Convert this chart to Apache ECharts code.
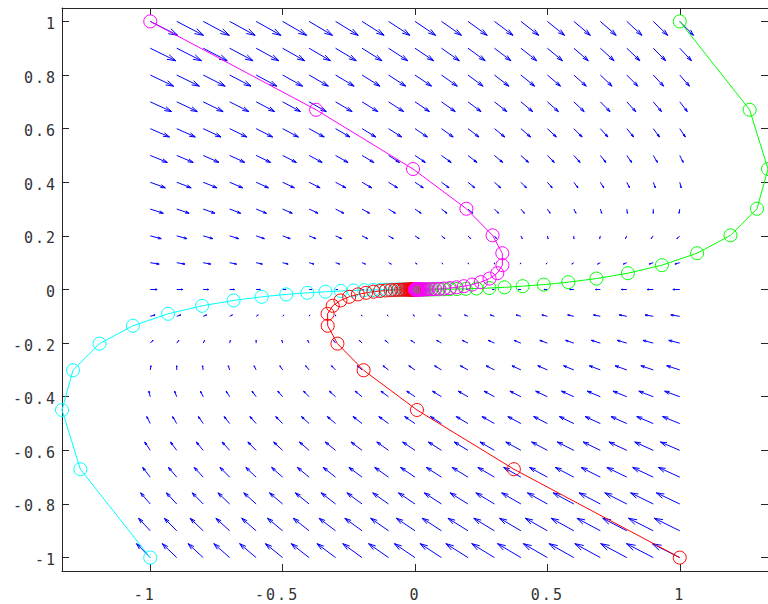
<!DOCTYPE html>
<html>
<head>
<meta charset="utf-8">
<title>Phase portrait</title>
<script src="https://cdn.jsdelivr.net/npm/echarts@6/dist/echarts.min.js"></script>
<style>
  html, body { margin: 0; padding: 0; background: #ffffff; }
  #chart { width: 768px; height: 604px; }
  #chart text { letter-spacing: 2px; }
</style>
</head>
<body>
<div id="chart"></div>
<script>
// Direction field sample grid
const gridX = [-1, -0.9, -0.8, -0.7, -0.6, -0.5, -0.4, -0.3, -0.2, -0.1, 0, 0.1, 0.2, 0.3, 0.4, 0.5, 0.6, 0.7, 0.8, 0.9, 1];
const gridY = [-1, -0.9, -0.8, -0.7, -0.6, -0.5, -0.4, -0.3, -0.2, -0.1, 0, 0.1, 0.2, 0.3, 0.4, 0.5, 0.6, 0.7, 0.8, 0.9, 1];
// Field components: horizontal part that varies along x, horizontal part that varies along y,
// and the vertical component (varies along y only)
const uFromX = [1, 0.9, 0.8, 0.7, 0.6, 0.5, 0.4, 0.3, 0.2, 0.1, 0, -0.1, -0.2, -0.3, -0.4, -0.5, -0.6, -0.7, -0.8, -0.9, -1];
const uFromY = [-3, -2.7, -2.4, -2.1, -1.8, -1.5, -1.2, -0.9, -0.6, -0.3, 0, 0.3, 0.6, 0.9, 1.2, 1.5, 1.8, 2.1, 2.4, 2.7, 3];
const vFromY = [2, 1.8, 1.6, 1.4, 1.2, 1, 0.8, 0.6, 0.4, 0.2, 0, -0.2, -0.4, -0.6, -0.8, -1, -1.2, -1.4, -1.6, -1.8, -2];

// Trajectories, one marker per time step
const magentaX = [-1, -0.3735, -0.0074, 0.1941, 0.2930, 0.3297, 0.3302, 0.3108, 0.2815, 0.2486, 0.2157, 0.1848, 0.1568, 0.1320, 0.1105, 0.0921, 0.0765, 0.0634, 0.0524, 0.0432, 0.0356, 0.0293, 0.0241, 0.0198, 0.0163, 0.0133, 0.0109, 0.0090, 0.0074, 0.0061, 0.0050, 0.0041, 0.0033, 0.0027, 0.0022, 0.0018, 0.0015, 0.0012, 0.0010, 0.0008, 0.0007];
const magentaY = [1, 0.6703, 0.4493, 0.3012, 0.2019, 0.1353, 0.0907, 0.0608, 0.0408, 0.0273, 0.0183, 0.0123, 0.0082, 0.0055, 0.0037, 0.0025, 0.0017, 0.0011, 0.0007, 0.0005, 0.0003, 0.0002, 0.0002, 0.0001, 0.0001, 0, 0, 0, 0, 0, 0, 0, 0, 0, 0, 0, 0, 0, 0, 0, 0];
const greenX = [1, 1.2640, 1.3333, 1.2917, 1.1916, 1.0655, 0.9326, 0.8040, 0.6853, 0.5792, 0.4864, 0.4064, 0.3382, 0.2805, 0.2322, 0.1917, 0.1581, 0.1302, 0.1071, 0.0880, 0.0723, 0.0593, 0.0487, 0.0399, 0.0327, 0.0268, 0.0220, 0.0180, 0.0148, 0.0121, 0.0099, 0.0081, 0.0066, 0.0054, 0.0044, 0.0036, 0.0030, 0.0024, 0.0020, 0.0016, 0.0013];
const greenY = [1, 0.6703, 0.4493, 0.3012, 0.2019, 0.1353, 0.0907, 0.0608, 0.0408, 0.0273, 0.0183, 0.0123, 0.0082, 0.0055, 0.0037, 0.0025, 0.0017, 0.0011, 0.0007, 0.0005, 0.0003, 0.0002, 0.0002, 0.0001, 0.0001, 0, 0, 0, 0, 0, 0, 0, 0, 0, 0, 0, 0, 0, 0, 0, 0];
const redX = [1, 0.3735, 0.0074, -0.1941, -0.2930, -0.3297, -0.3302, -0.3108, -0.2815, -0.2486, -0.2157, -0.1848, -0.1568, -0.1320, -0.1105, -0.0921, -0.0765, -0.0634, -0.0524, -0.0432, -0.0356, -0.0293, -0.0241, -0.0198, -0.0163, -0.0133, -0.0109, -0.0090, -0.0074, -0.0061, -0.0050, -0.0041, -0.0033, -0.0027, -0.0022, -0.0018, -0.0015, -0.0012, -0.0010, -0.0008, -0.0007];
const redY = [-1, -0.6703, -0.4493, -0.3012, -0.2019, -0.1353, -0.0907, -0.0608, -0.0408, -0.0273, -0.0183, -0.0123, -0.0082, -0.0055, -0.0037, -0.0025, -0.0017, -0.0011, -0.0007, -0.0005, -0.0003, -0.0002, -0.0002, -0.0001, -0.0001, 0, 0, 0, 0, 0, 0, 0, 0, 0, 0, 0, 0, 0, 0, 0, 0];
const cyanX = [-1, -1.2640, -1.3333, -1.2917, -1.1916, -1.0655, -0.9326, -0.8040, -0.6853, -0.5792, -0.4864, -0.4064, -0.3382, -0.2805, -0.2322, -0.1917, -0.1581, -0.1302, -0.1071, -0.0880, -0.0723, -0.0593, -0.0487, -0.0399, -0.0327, -0.0268, -0.0220, -0.0180, -0.0148, -0.0121, -0.0099, -0.0081, -0.0066, -0.0054, -0.0044, -0.0036, -0.0030, -0.0024, -0.0020, -0.0016, -0.0013];
const cyanY = [-1, -0.6703, -0.4493, -0.3012, -0.2019, -0.1353, -0.0907, -0.0608, -0.0408, -0.0273, -0.0183, -0.0123, -0.0082, -0.0055, -0.0037, -0.0025, -0.0017, -0.0011, -0.0007, -0.0005, -0.0003, -0.0002, -0.0002, -0.0001, -0.0001, 0, 0, 0, 0, 0, 0, 0, 0, 0, 0, 0, 0, 0, 0, 0, 0];

// Tick positions
const xTicks = [-1, -0.5, 0, 0.5, 1];
const yTicks = [-1, -0.8, -0.6, -0.4, -0.2, 0, 0.2, 0.4, 0.6, 0.8, 1];

// Drawing constants
const ARROW_SCALE = 0.026;   // data units per field unit
const HEAD_LEN = 0.3;        // arrowhead length, fraction of arrow length
const HEAD_HALF = 0.09;      // arrowhead half width, fraction of arrow length
const AXIS_COLOR = '#262626';
const TEXT_COLOR = '#333333';
const FONT = 'DejaVu Sans Mono';

const arrows = [];
gridY.forEach((y, i) => {
  gridX.forEach((x, j) => {
    arrows.push([x, y, (uFromX[j] + uFromY[i]) * ARROW_SCALE, vFromY[i] * ARROW_SCALE]);
  });
});

function renderArrow(params, api) {
  const x = api.value(0), y = api.value(1), du = api.value(2), dv = api.value(3);
  const tx = x + du, ty = y + dv;
  const bx = tx - HEAD_LEN * du, by = ty - HEAD_LEN * dv;
  const p0 = api.coord([x, y]);
  const pt = api.coord([tx, ty]);
  const h1 = api.coord([bx - HEAD_HALF * dv, by + HEAD_HALF * du]);
  const h2 = api.coord([bx + HEAD_HALF * dv, by - HEAD_HALF * du]);
  const style = { stroke: '#0000ff', lineWidth: 1, fill: null };
  return {
    type: 'group',
    children: [
      { type: 'polyline', shape: { points: [p0, pt] }, style },
      { type: 'polyline', shape: { points: [h1, pt, h2] }, style }
    ]
  };
}

function trajectory(xs, ys, color) {
  return {
    type: 'line',
    data: xs.map((x, k) => [x, ys[k]]),
    symbol: 'circle',
    symbolSize: 13,
    showSymbol: true,
    lineStyle: { color: color, width: 1 },
    itemStyle: { color: 'rgba(0,0,0,0)', borderColor: color, borderWidth: 1 },
    emphasis: { disabled: true },
    silent: true,
    z: 3
  };
}

const labelBase = { fontFamily: FONT, fontSize: 15, color: TEXT_COLOR };

const chart = echarts.init(document.getElementById('chart'), null, { renderer: 'svg' });
chart.setOption({
  animation: false,
  backgroundColor: '#ffffff',
  grid: { left: 62, top: 8, width: 711, height: 563, containLabel: false },
  xAxis: [
    {
      type: 'value', position: 'bottom', min: -1.3333, max: 1.3333,
      axisLine: { show: true, onZero: false, lineStyle: { color: AXIS_COLOR, width: 1 } },
      axisTick: { show: true, inside: true, length: 7, customValues: xTicks, lineStyle: { color: AXIS_COLOR } },
      axisLabel: {
        show: true, margin: 16, customValues: xTicks,
        ...labelBase,
        formatter: v => (v < 0 ? '{neg|' + v + '}' : '{pos|' + v + '}'),
        rich: {
          neg: { ...labelBase, padding: [0, 11, 0, 0] },
          pos: { ...labelBase }
        }
      },
      splitLine: { show: false }
    },
    {
      type: 'value', position: 'top', min: -1.3333, max: 1.3333,
      axisLine: { show: true, onZero: false, lineStyle: { color: AXIS_COLOR, width: 1 } },
      axisTick: { show: true, inside: true, length: 7, customValues: xTicks, lineStyle: { color: AXIS_COLOR } },
      axisLabel: { show: false },
      splitLine: { show: false }
    }
  ],
  yAxis: [
    {
      type: 'value', position: 'left', min: -1.05, max: 1.05,
      axisLine: { show: true, onZero: false, lineStyle: { color: AXIS_COLOR, width: 1 } },
      axisTick: { show: true, inside: true, length: 7, customValues: yTicks, lineStyle: { color: AXIS_COLOR } },
      axisLabel: {
        show: true, margin: 5, customValues: yTicks, ...labelBase,
        formatter: v => '{t|' + v + '}',
        rich: { t: { ...labelBase, padding: [5, 0, 0, 0] } }
      },
      splitLine: { show: false }
    },
    {
      type: 'value', position: 'right', min: -1.05, max: 1.05,
      axisLine: { show: true, onZero: false, lineStyle: { color: AXIS_COLOR, width: 1 } },
      axisTick: { show: true, inside: true, length: 7, customValues: yTicks, lineStyle: { color: AXIS_COLOR } },
      axisLabel: { show: false },
      splitLine: { show: false }
    }
  ],
  series: [
    {
      type: 'custom',
      renderItem: renderArrow,
      data: arrows,
      encode: { x: 0, y: 1 },
      silent: true,
      clip: true,
      z: 2
    },
    trajectory(cyanX, cyanY, '#00ffff'),
    trajectory(redX, redY, '#ff0000'),
    trajectory(greenX, greenY, '#00ff00'),
    trajectory(magentaX, magentaY, '#ff00ff')
  ]
});
</script>
</body>
</html>
